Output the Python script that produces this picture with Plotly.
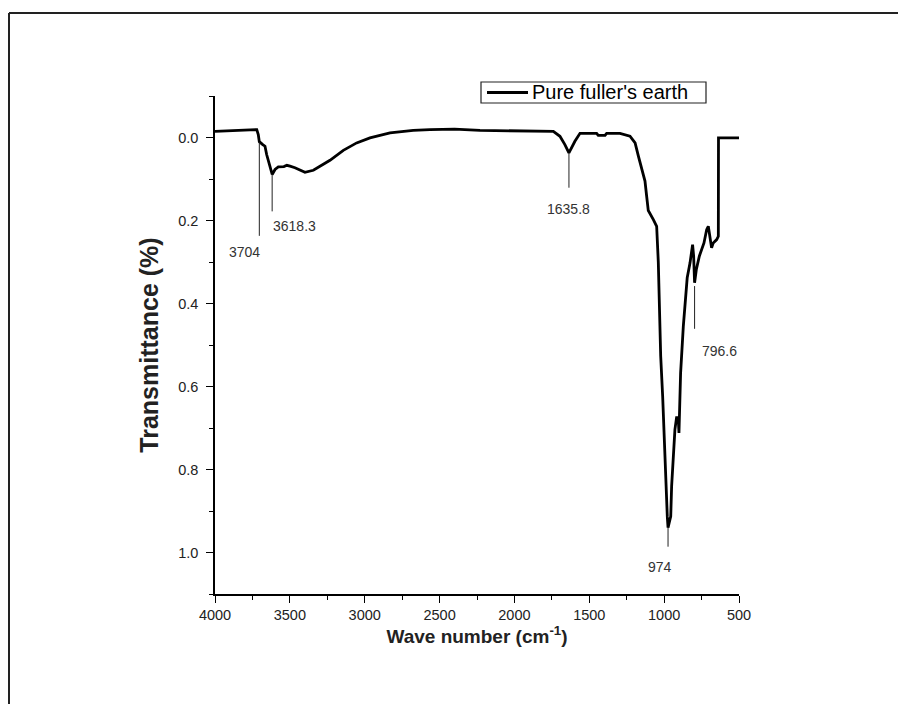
import plotly.graph_objects as go

# ---- data ----
wavenumber = [4000, 3900, 3800, 3721, 3711, 3704, 3681, 3666, 3655, 3637, 3618, 3599, 3577,
              3540, 3520, 3499, 3466, 3399, 3343, 3232, 3143, 3054, 2965, 2831, 2676, 2564,
              2400, 2230, 2000, 1740, 1696, 1663, 1636, 1596, 1562, 1451, 1440, 1395, 1384,
              1295, 1228, 1194, 1172, 1150, 1128, 1117, 1106, 1072, 1050, 1039, 1032, 1023,
              1010, 1001, 992, 979, 974, 966, 956, 950, 939, 928, 916, 904, 901, 899, 890,
              872, 854, 846, 827, 810, 803, 796.6, 785, 765, 734, 716, 705, 683, 672, 649,
              638, 637, 500]
transmittance = [-0.015, -0.016, -0.018, -0.019, -0.007, 0.010, 0.017, 0.021, 0.041, 0.065,
                 0.089, 0.077, 0.071, 0.070, 0.067, 0.069, 0.073, 0.084, 0.079, 0.055, 0.031,
                 0.013, 0.001, -0.011, -0.017, -0.019, -0.020, -0.017, -0.016, -0.015, -0.003,
                 0.017, 0.037, 0.009, -0.010, -0.010, -0.005, -0.005, -0.010, -0.010, -0.003,
                 0.013, 0.045, 0.077, 0.105, 0.141, 0.176, 0.198, 0.214, 0.300, 0.406, 0.527,
                 0.623, 0.712, 0.824, 0.913, 0.940, 0.930, 0.913, 0.840, 0.752, 0.704, 0.672,
                 0.690, 0.712, 0.672, 0.567, 0.455, 0.382, 0.338, 0.302, 0.258, 0.286, 0.350,
                 0.318, 0.286, 0.254, 0.222, 0.214, 0.266, 0.254, 0.246, 0.238, 0.001, 0.001]

series_name = "Pure fuller's earth"

peak_x = [3704, 3618.3, 1635.8, 974, 796.6]
peak_labels = ["3704", "3618.3", "1635.8", "974", "796.6"]
peak_line_top = [0.012, 0.089, 0.037, 0.940, 0.358]
peak_line_bottom = [0.237, 0.178, 0.121, 0.986, 0.461]
label_x = [3800, 3466, 1636, 1028, 627]
label_y = [0.275, 0.214, 0.173, 1.034, 0.515]

x_ticks = [4000, 3500, 3000, 2500, 2000, 1500, 1000, 500]
y_ticks = [0.0, 0.2, 0.4, 0.6, 0.8, 1.0]

# page body adds an 8px margin, so the figure is sized/positioned to compensate
OFF = 8
W, H = 906 - OFF, 704 - OFF
L, T = 215 - OFF, 96 - OFF
plot_right, plot_bottom = 739 - OFF, 594 - OFF
R, B = W - plot_right, H - plot_bottom
pw, ph = W - L - R, H - T - B


def px_x(p):  # window pixel -> paper x
    return (p - OFF - L) / pw


def px_y(p):  # window pixel -> paper y
    return (H - B - (p - OFF)) / ph


sans = "Liberation Sans, Arial, sans-serif"

fig = go.Figure()
fig.add_trace(go.Scatter(x=wavenumber, y=transmittance, mode="lines",
                         line=dict(color="black", width=2.8),
                         name=series_name, showlegend=False))

shapes = []
for xv, y0, y1 in zip(peak_x, peak_line_top, peak_line_bottom):
    shapes.append(dict(type="line", xref="x", yref="y", x0=xv, x1=xv, y0=y0, y1=y1,
                       line=dict(color="#222", width=1)))
# outer frame (top and left edges)
shapes.append(dict(type="line", xref="paper", yref="paper", x0=px_x(9), x1=px_x(920),
                   y0=px_y(13), y1=px_y(13), line=dict(color="#222", width=2)))
shapes.append(dict(type="line", xref="paper", yref="paper", x0=px_x(9), x1=px_x(9),
                   y0=px_y(13), y1=px_y(720), line=dict(color="#222", width=2)))
# legend box with line sample
shapes.append(dict(type="rect", xref="paper", yref="paper", x0=px_x(481), x1=px_x(706),
                   y0=px_y(103), y1=px_y(82), line=dict(color="#222", width=1.2),
                   fillcolor="white"))
shapes.append(dict(type="line", xref="paper", yref="paper", x0=px_x(487), x1=px_x(528),
                   y0=px_y(92.5), y1=px_y(92.5), line=dict(color="black", width=3)))

annotations = []
for lx, ly, txt in zip(label_x, label_y, peak_labels):
    annotations.append(dict(x=lx, y=ly, xref="x", yref="y", text=txt, showarrow=False,
                            font=dict(family=sans, size=14, color="#333")))
annotations.append(dict(x=px_x(530), y=px_y(92.5), xref="paper", yref="paper",
                        xanchor="left", yanchor="middle", text=series_name,
                        showarrow=False, font=dict(family=sans, size=20, color="black")))

fig.update_layout(
    width=W, height=H,
    margin=dict(l=L, r=R, t=T, b=B),
    paper_bgcolor="white", plot_bgcolor="white",
    shapes=shapes, annotations=annotations,
    showlegend=False,
    xaxis=dict(range=[4000, 500], tickvals=x_ticks, ticks="outside", ticklen=7,
               tickwidth=1.3, tickcolor="black", showline=True, linecolor="black",
               linewidth=1.5, showgrid=False, zeroline=False,
               minor=dict(ticks="outside", ticklen=4, tickcolor="black", dtick=250,
                          tick0=500, showgrid=False),
               tickfont=dict(family=sans, size=14.5, color="#222"),
               title=dict(text="Wave number (cm<sup>-1</sup>)", standoff=3,
                          font=dict(family=sans, size=19, color="#222", weight="bold"))),
    yaxis=dict(range=[1.1, -0.1], tickvals=y_ticks, tickformat=".1f", ticks="outside",
               ticklen=7, tickwidth=1.3, tickcolor="black", showline=True,
               linecolor="black", linewidth=1.5, showgrid=False, zeroline=False,
               ticklabelstandoff=5,
               minor=dict(ticks="outside", ticklen=4, tickcolor="black", dtick=0.1,
                          tick0=0.1, showgrid=False),
               tickfont=dict(family=sans, size=14.5, color="#222"),
               title=dict(text="Transmittance (%)", standoff=12,
                          font=dict(family=sans, size=25, color="#222", weight="bold"))),
)

fig.write_html("out.html")
